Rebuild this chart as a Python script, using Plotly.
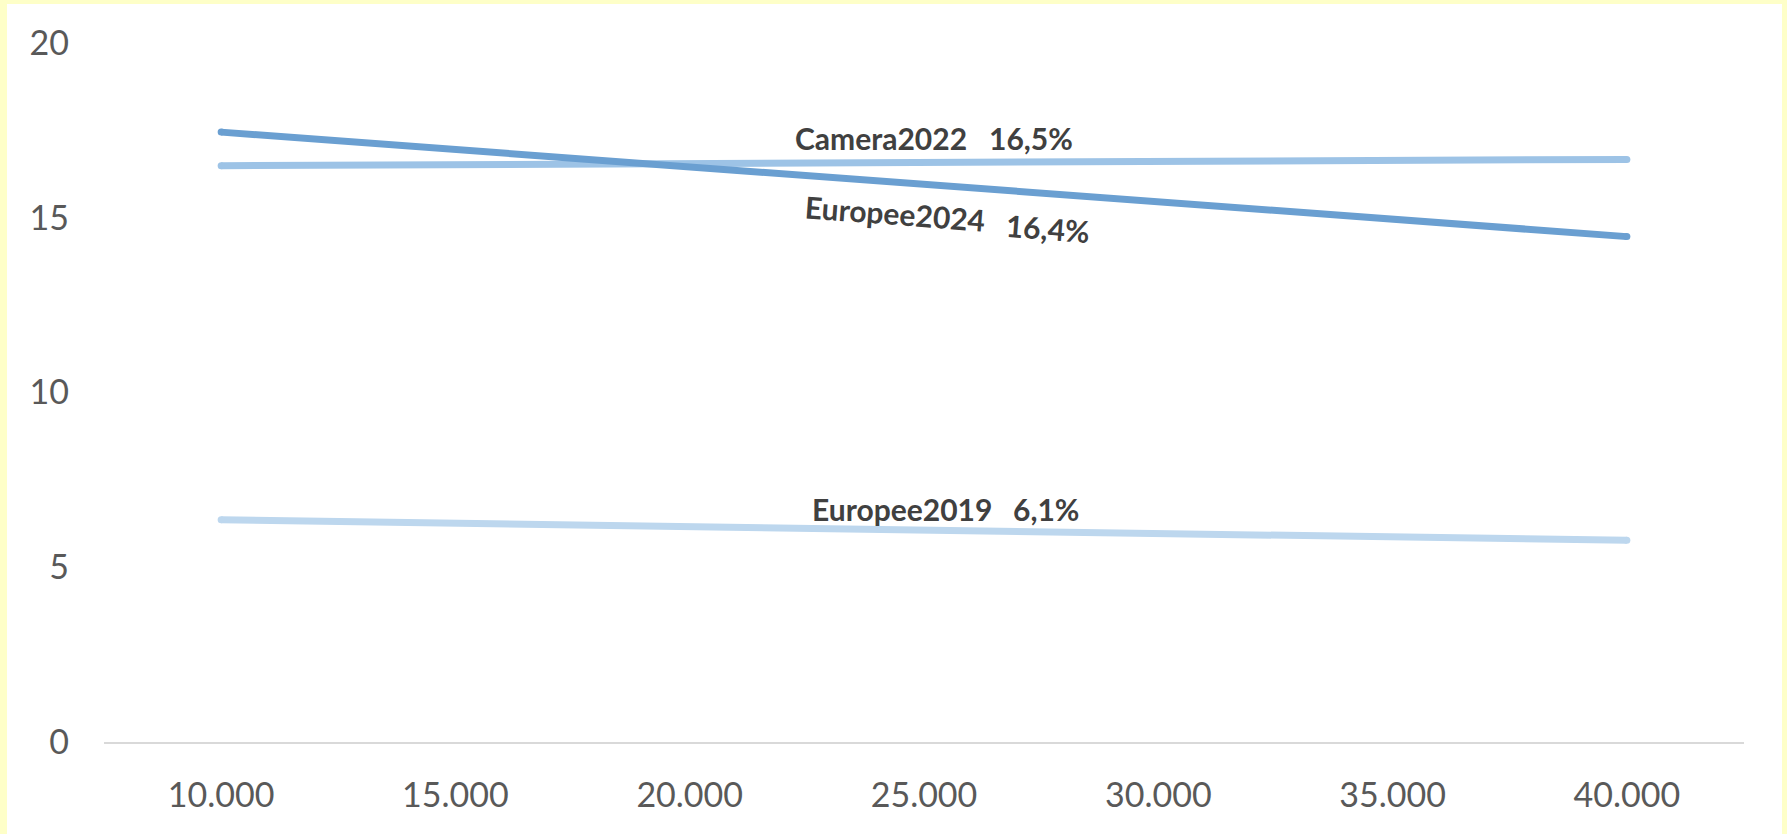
import plotly.graph_objects as go

# Data
x_vals = [10000, 40000]
europee2024 = [17.45, 14.46]
camera2022 = [16.49, 16.67]
europee2019 = [6.36, 5.77]

series_names = ["Europee2024", "Camera2022", "Europee2019"]
series_labels = ["16,4%", "16,5%", "6,1%"]
series_values = [europee2024, camera2022, europee2019]
colors = ["#6A9FD1", "#9DC3E6", "#BDD7EE"]

x_ticks = [10000, 15000, 20000, 25000, 30000, 35000, 40000]
y_ticks = [0, 5, 10, 15, 20]

fig = go.Figure()
# draw lighter ones first, darker on top
for i in [2, 1, 0]:
    fig.add_trace(go.Scatter(
        x=x_vals, y=series_values[i], mode="lines+markers",
        line=dict(color=colors[i], width=7),
        marker=dict(color=colors[i], size=7),
        name=series_names[i], showlegend=False, hoverinfo="skip"))

# label placements (data coords)
label_pos = {
    "Camera2022": ((24082, 17.28), (27283, 17.28), 0),
    "Europee2024": ((24381, 15.14), (27646, 14.71), 4.3),
    "Europee2019": ((24530, 6.67), (27603, 6.67), 0),
}
afont = dict(family="Lato, 'Open Sans', sans-serif", size=30, color="#404040", weight="bold")
for name, lab in zip(series_names, series_labels):
    (nx, ny), (vx, vy), ang = label_pos[name]
    fig.add_annotation(x=nx, y=ny, text="<b>%s</b>" % name, showarrow=False,
                       font=afont, textangle=ang, xanchor="center", yanchor="middle")
    fig.add_annotation(x=vx, y=vy, text="<b>%s</b>" % lab, showarrow=False,
                       font=afont, textangle=ang, xanchor="center", yanchor="middle")

# white panel over yellow frame
fig.add_shape(type="rect", xref="paper", yref="paper",
              x0=(7 - 104) / 1640, x1=(1782 - 104) / 1640,
              y0=-(834 - 742) / 699 - 0.05, y1=1 + (43 - 4) / 699,
              fillcolor="white", line=dict(width=0), layer="below")

tickfont = dict(family="Lato, 'Open Sans', sans-serif", size=34, color="#595959")
fig.update_layout(
    width=1787, height=834,
    margin=dict(l=104, r=43, t=43, b=92),
    paper_bgcolor="#FEFFC8", plot_bgcolor="white",
    separators=",.",
    xaxis=dict(range=[7500, 42500], tickvals=x_ticks, tickformat=",.0f",
               showgrid=False, zeroline=False, showline=True, linecolor="#D9D9D9",
               linewidth=1.5, ticks="", tickfont=tickfont, ticklabelstandoff=22),
    yaxis=dict(range=[0, 20], tickvals=y_ticks, showgrid=False, zeroline=False,
               showline=False, ticks="", tickfont=tickfont, ticklabelstandoff=34),
)

fig.write_html("out.html", config={"displayModeBar": False},
               post_script="document.body.style.margin='0';document.body.style.overflow='hidden';")
